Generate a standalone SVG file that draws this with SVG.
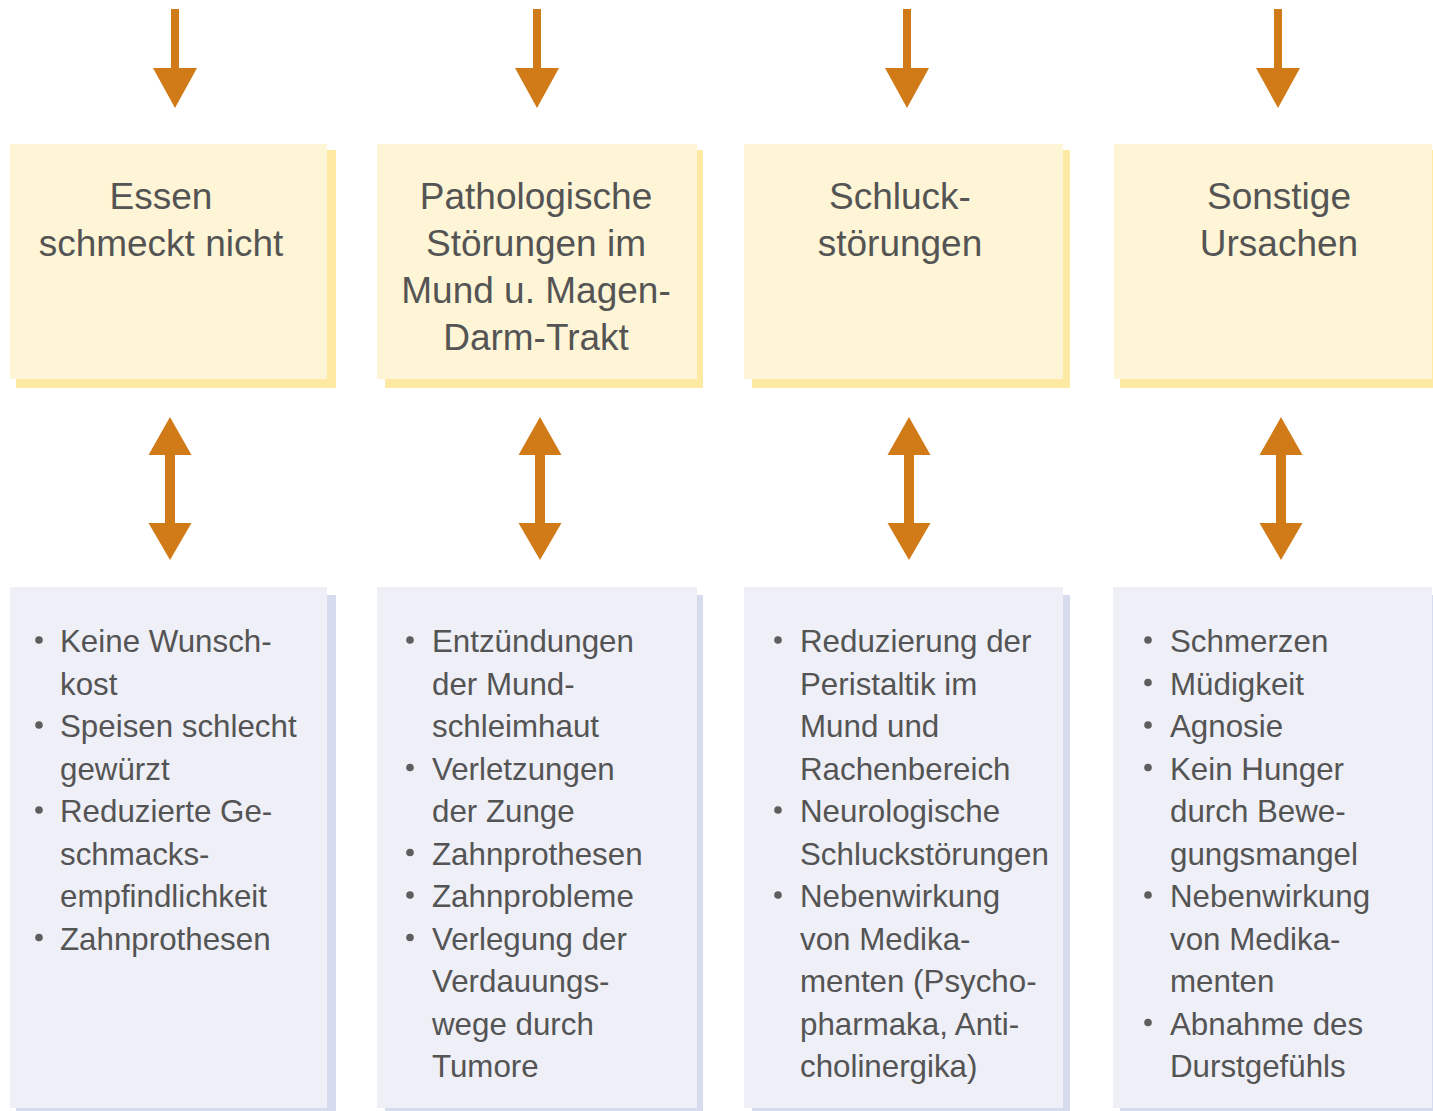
<svg xmlns="http://www.w3.org/2000/svg" xmlns:xlink="http://www.w3.org/1999/xlink" width="1433" height="1111" viewBox="0 0 1433 1111">
<style>
.arrow{fill:#d17b18}
.tshadow{fill:#fde9a1}
.tbox{fill:#fef5d6}
.bshadow{fill:#d6dcee}
.bbox{fill:#eeeff7}
.ttl{font-family:"Liberation Sans",Arial,sans-serif;font-size:37px;fill:#545454;text-anchor:middle}
.itm{font-family:"Liberation Sans",Arial,sans-serif;font-size:31.3px;fill:#545454}
.dot{fill:#5e5e5e}
</style>
<defs>
<path id="down" d="M-4,9 H4 V68 H22 L0,108 L-22,68 H-4 Z"/>
<path id="dbl" d="M0,417 L21.5,455 H5 V523 H21.5 L0,560 L-21.5,523 H-5 V455 H-21.5 Z"/>
</defs>
<rect width="1433" height="1111" fill="#ffffff"/>
<g id="connectors" class="arrow">
<use xlink:href="#down" x="175"/>
<use xlink:href="#down" x="537"/>
<use xlink:href="#down" x="907"/>
<use xlink:href="#down" x="1278"/>
<use xlink:href="#dbl" x="170"/>
<use xlink:href="#dbl" x="540"/>
<use xlink:href="#dbl" x="909"/>
<use xlink:href="#dbl" x="1281"/>
</g>
<g id="top1">
<rect class="tshadow" x="16" y="150" width="320" height="238"/>
<rect class="tbox" x="10" y="144" width="317" height="235"/>
<text class="ttl" x="161" y="209">Essen</text>
<text class="ttl" x="161" y="256">schmeckt nicht</text>
</g>
<g id="top2">
<rect class="tshadow" x="385" y="150" width="318" height="238"/>
<rect class="tbox" x="377" y="144" width="320" height="235"/>
<text class="ttl" x="536" y="209">Pathologische</text>
<text class="ttl" x="536" y="256">Störungen im</text>
<text class="ttl" x="536" y="303">Mund u. Magen-</text>
<text class="ttl" x="536" y="350">Darm-Trakt</text>
</g>
<g id="top3">
<rect class="tshadow" x="752" y="150" width="318" height="238"/>
<rect class="tbox" x="744" y="144" width="319" height="235"/>
<text class="ttl" x="900" y="209">Schluck-</text>
<text class="ttl" x="900" y="256">störungen</text>
</g>
<g id="top4">
<rect class="tshadow" x="1120" y="150" width="313" height="238"/>
<rect class="tbox" x="1114" y="144" width="318" height="235"/>
<text class="ttl" x="1279" y="209">Sonstige</text>
<text class="ttl" x="1279" y="256">Ursachen</text>
</g>
<g id="list1">
<rect class="bshadow" x="16" y="595" width="320" height="516"/>
<rect class="bbox" x="10" y="587" width="317" height="521"/>
<circle class="dot" cx="39" cy="640" r="3.8"/>
<circle class="dot" cx="39" cy="725" r="3.8"/>
<circle class="dot" cx="39" cy="810" r="3.8"/>
<circle class="dot" cx="39" cy="937.5" r="3.8"/>
<text class="itm" x="60" y="652">Keine Wunsch-</text>
<text class="itm" x="60" y="694.5">kost</text>
<text class="itm" x="60" y="737">Speisen schlecht</text>
<text class="itm" x="60" y="779.5">gewürzt</text>
<text class="itm" x="60" y="822">Reduzierte Ge-</text>
<text class="itm" x="60" y="864.5">schmacks-</text>
<text class="itm" x="60" y="907">empfindlichkeit</text>
<text class="itm" x="60" y="949.5">Zahnprothesen</text>
</g>
<g id="list2">
<rect class="bshadow" x="385" y="595" width="318" height="516"/>
<rect class="bbox" x="377" y="587" width="320" height="521"/>
<circle class="dot" cx="410" cy="640" r="3.8"/>
<circle class="dot" cx="410" cy="767.5" r="3.8"/>
<circle class="dot" cx="410" cy="852.5" r="3.8"/>
<circle class="dot" cx="410" cy="895" r="3.8"/>
<circle class="dot" cx="410" cy="937.5" r="3.8"/>
<text class="itm" x="432" y="652">Entzündungen</text>
<text class="itm" x="432" y="694.5">der Mund-</text>
<text class="itm" x="432" y="737">schleimhaut</text>
<text class="itm" x="432" y="779.5">Verletzungen</text>
<text class="itm" x="432" y="822">der Zunge</text>
<text class="itm" x="432" y="864.5">Zahnprothesen</text>
<text class="itm" x="432" y="907">Zahnprobleme</text>
<text class="itm" x="432" y="949.5">Verlegung der</text>
<text class="itm" x="432" y="992">Verdauungs-</text>
<text class="itm" x="432" y="1034.5">wege durch</text>
<text class="itm" x="432" y="1077">Tumore</text>
</g>
<g id="list3">
<rect class="bshadow" x="752" y="595" width="318" height="516"/>
<rect class="bbox" x="744" y="587" width="319" height="521"/>
<circle class="dot" cx="778" cy="640" r="3.8"/>
<circle class="dot" cx="778" cy="810" r="3.8"/>
<circle class="dot" cx="778" cy="895" r="3.8"/>
<text class="itm" x="800" y="652">Reduzierung der</text>
<text class="itm" x="800" y="694.5">Peristaltik im</text>
<text class="itm" x="800" y="737">Mund und</text>
<text class="itm" x="800" y="779.5">Rachenbereich</text>
<text class="itm" x="800" y="822">Neurologische</text>
<text class="itm" x="800" y="864.5">Schluckstörungen</text>
<text class="itm" x="800" y="907">Nebenwirkung</text>
<text class="itm" x="800" y="949.5">von Medika-</text>
<text class="itm" x="800" y="992">menten (Psycho-</text>
<text class="itm" x="800" y="1034.5">pharmaka, Anti-</text>
<text class="itm" x="800" y="1077">cholinergika)</text>
</g>
<g id="list4">
<rect class="bshadow" x="1120" y="595" width="313" height="516"/>
<rect class="bbox" x="1113" y="587" width="319" height="521"/>
<circle class="dot" cx="1148" cy="640" r="3.8"/>
<circle class="dot" cx="1148" cy="682.5" r="3.8"/>
<circle class="dot" cx="1148" cy="725" r="3.8"/>
<circle class="dot" cx="1148" cy="767.5" r="3.8"/>
<circle class="dot" cx="1148" cy="895" r="3.8"/>
<circle class="dot" cx="1148" cy="1022.5" r="3.8"/>
<text class="itm" x="1170" y="652">Schmerzen</text>
<text class="itm" x="1170" y="694.5">Müdigkeit</text>
<text class="itm" x="1170" y="737">Agnosie</text>
<text class="itm" x="1170" y="779.5">Kein Hunger</text>
<text class="itm" x="1170" y="822">durch Bewe-</text>
<text class="itm" x="1170" y="864.5">gungsmangel</text>
<text class="itm" x="1170" y="907">Nebenwirkung</text>
<text class="itm" x="1170" y="949.5">von Medika-</text>
<text class="itm" x="1170" y="992">menten</text>
<text class="itm" x="1170" y="1034.5">Abnahme des</text>
<text class="itm" x="1170" y="1077">Durstgefühls</text>
</g>
</svg>
